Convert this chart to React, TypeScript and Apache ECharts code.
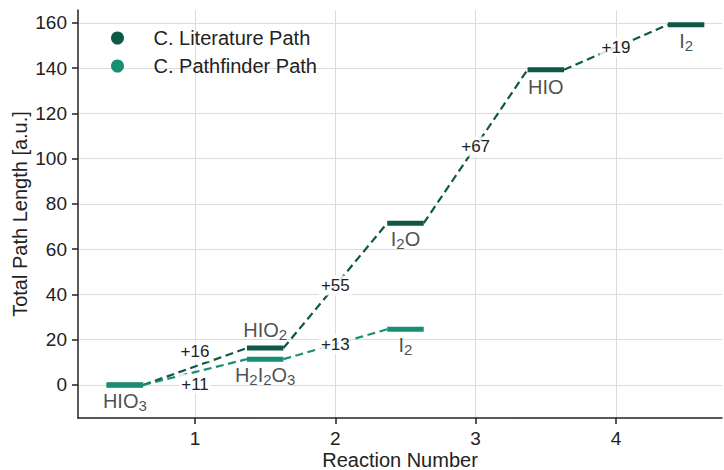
import React, { useEffect, useRef } from "react";
import * as echarts from "echarts";

const levelX = [0.5, 1.5, 2.5, 3.5, 4.5];
const literatureValues = [0, 16.3, 71.5, 139.3, 159.2];
const literatureSpecies = ["HIO_3", "HIO_2", "I_2O", "HIO", "I_2"];
const pathfinderValues = [0, 11.4, 24.6];
const pathfinderSpecies = ["HIO_3", "H_2I_2O_3", "I_2"];
const xTicks = [1, 2, 3, 4];
const yTicks = [0, 20, 40, 60, 80, 100, 120, 140, 160];
const seriesNames = ["C. Literature Path", "C. Pathfinder Path"];

const DARK = "#0d5946";
const TEAL = "#188e75";
const HALF = 0.13;
const FONT = "Liberation Sans";

function chem(s: string) {
  return s.replace(/_(\d)/g, "{s|$1}");
}

export default function App() {
  const ref = useRef<HTMLDivElement>(null);
  useEffect(() => {
    if (!ref.current) return;
    const chart = echarts.init(ref.current, null, { renderer: "svg" });

    const series: any[] = [];
    const paths = [
      { name: seriesNames[0], values: literatureValues, species: literatureSpecies, color: DARK },
      { name: seriesNames[1], values: pathfinderValues, species: pathfinderSpecies, color: TEAL },
    ];
    paths.forEach((p) => {
      for (let i = 0; i < p.values.length - 1; i++) {
        series.push({
          type: "line",
          name: p.name + "-conn",
          data: [
            [levelX[i] + HALF, p.values[i]],
            [levelX[i + 1] - HALF, p.values[i + 1]],
          ],
          symbol: "none",
          lineStyle: { color: p.color, width: 2.2, type: [8, 4.5] },
          z: 2,
          silent: true,
        });
      }
    });
    paths.forEach((p) => {
      p.values.forEach((v, i) => {
        series.push({
          type: "line",
          name: p.name,
          data: [
            [levelX[i] - HALF, v],
            [levelX[i] + HALF, v],
          ],
          symbol: "none",
          itemStyle: { color: p.color },
          lineStyle: { color: p.color, width: 5, cap: "butt" },
          z: 3,
          silent: true,
        });
      });
    });

    const rich = {
      s: { fontSize: 15, fontFamily: FONT, color: "#222", padding: [9, 0, 0, 0] },
    };
    const levelLabelPos: Record<string, string[]> = {
      [seriesNames[0]]: ["bottom", "top", "bottom", "bottom", "bottom"],
      [seriesNames[1]]: ["bottom", "bottom", "bottom"],
    };
    const levelLabelData: any[] = [];
    paths.forEach((p) => {
      p.values.forEach((v, i) => {
        if (p.name === seriesNames[0] && i === 0) return;
        const pos = levelLabelPos[p.name][i];
        const hasSub = p.species[i].indexOf("_") >= 0;
        levelLabelData.push({
          value: [levelX[i], v],
          label: {
            position: pos,
            distance: pos === "top" ? 6 : hasSub ? 4 : 7,
            formatter: chem(p.species[i]),
          },
        });
      });
    });
    series.push({
      type: "scatter",
      name: "levelLabels",
      data: levelLabelData,
      symbolSize: 0,
      silent: true,
      z: 5,
      label: {
        show: true,
        fontSize: 20,
        fontFamily: FONT,
        color: "#222",
        rich,
      },
    });

    const axisText = { fontFamily: FONT, fontSize: 19, color: "#222" };

    chart.setOption({
      animation: false,
      textStyle: { fontFamily: FONT },
      grid: { left: 78, right: 2, top: 10, bottom: 52, containLabel: false, outerBoundsMode: "none" },
      legend: {
        data: seriesNames.map((n, i) => ({
          name: n,
          icon: "circle",
          itemStyle: { color: i === 0 ? DARK : TEAL },
        })),
        orient: "vertical",
        left: 106,
        top: 23,
        itemWidth: 62,
        itemHeight: 13,
        itemGap: 8,
        textStyle: { fontFamily: FONT, fontSize: 20, color: "#222" },
        selectedMode: false,
      },
      xAxis: {
        type: "value",
        min: 0.166,
        max: 4.756,
        name: "Reaction Number",
        nameLocation: "middle",
        nameGap: 33,
        nameMoveOverlap: false,
        nameTextStyle: { fontFamily: FONT, fontSize: 20, lineHeight: 18, color: "#222" },
        axisLine: { show: true, onZero: false, lineStyle: { color: "#222", width: 1.5 } },
        axisTick: { show: true, length: 6, customValues: xTicks, lineStyle: { color: "#222", width: 1.5 } },
        axisLabel: { ...axisText, margin: 11, customValues: xTicks },
        splitLine: { show: true, lineStyle: { color: "#dcdcdc", width: 1 } },
      },
      yAxis: {
        type: "value",
        min: -14.6,
        max: 165.7,
        name: "Total Path Length [a.u.]",
        nameLocation: "middle",
        nameGap: 48,
        nameMoveOverlap: false,
        nameTextStyle: { fontFamily: FONT, fontSize: 20, color: "#222" },
        axisLine: { show: true, onZero: false, lineStyle: { color: "#222", width: 1.5 } },
        axisTick: { show: true, length: 6, customValues: yTicks, lineStyle: { color: "#222", width: 1.5 } },
        axisLabel: { ...axisText, margin: 11, customValues: yTicks },
        splitLine: { show: true, lineStyle: { color: "#dcdcdc", width: 1 } },
      },
      series,
    });

    const deltaOffsets: Record<string, number[][]> = {
      [seriesNames[0]]: [[0, -15], [0, 0], [0, 0], [0, 0]],
      [seriesNames[1]]: [[0, 12], [0, 0]],
    };
    const graphics: any[] = [];
    paths.forEach((p) => {
      for (let i = 0; i < p.values.length - 1; i++) {
        const x = (levelX[i] + HALF + levelX[i + 1] - HALF) / 2;
        const y = (p.values[i] + p.values[i + 1]) / 2;
        const d = Math.floor(p.values[i + 1] - p.values[i]);
        const px = chart.convertToPixel({ gridIndex: 0 }, [x, y]) as number[];
        const off = deltaOffsets[p.name][i];
        graphics.push({
          type: "text",
          x: px[0] + off[0],
          y: px[1] + off[1],
          z: 100,
          silent: true,
          style: {
            text: "+" + d,
            font: `17px "${FONT}"`,
            fill: "#222",
            align: "center",
            verticalAlign: "middle",
            textAlign: "center",
            textVerticalAlign: "middle",
            backgroundColor: "rgba(255,255,255,0.85)",
            padding: [2, 2, 1, 2],
          },
        });
      }
    });
    chart.setOption({ graphic: graphics });

    return () => chart.dispose();
  }, []);
  return (
    <div
      ref={ref}
      style={{ position: "fixed", left: 0, top: 0, width: 724, height: 470, background: "#fff" }}
    />
  );
}
